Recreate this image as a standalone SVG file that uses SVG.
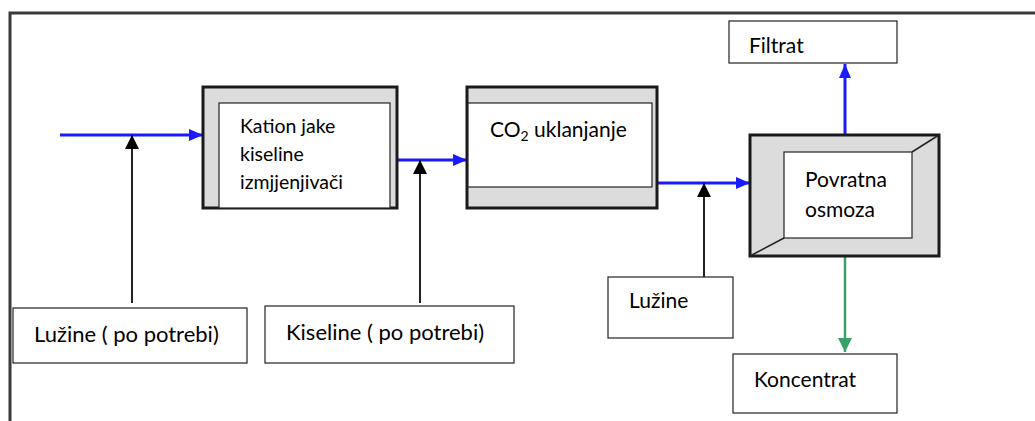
<svg xmlns="http://www.w3.org/2000/svg" width="1035" height="421" viewBox="0 0 1035 421">
<defs>
<style>
.frame{fill:none;stroke:#3a3a3a;stroke-width:3}
.outer{fill:#dcdcdc;stroke:#1a1a1a;stroke-width:3}
.inner{fill:#fff;stroke:#222;stroke-width:1.2}
.box{fill:#fff;stroke:#222;stroke-width:1.2}
.diag{stroke:#222;stroke-width:1.5}
.t{font-family:Lato,"Liberation Sans",sans-serif;font-size:21px;fill:#000}
.s{font-size:19.5px}
.l{font-size:22px}
.blue{stroke:#1a1aff;stroke-width:3;fill:none}
.black{stroke:#222;stroke-width:2;fill:none}
.green{stroke:#3aa06a;stroke-width:2.5;fill:none}
</style>
<marker id="ab" markerWidth="14" markerHeight="12" refX="14" refY="6" orient="auto" markerUnits="userSpaceOnUse"><path d="M0,0 L14,6 L0,12 Z" fill="#1a1aff"/></marker>
<marker id="ak" markerWidth="14" markerHeight="14" refX="14" refY="7" orient="auto" markerUnits="userSpaceOnUse"><path d="M0,0 L14,7 L0,14 Z" fill="#000"/></marker>
<marker id="ag" markerWidth="14" markerHeight="14" refX="14" refY="7" orient="auto" markerUnits="userSpaceOnUse"><path d="M0,0 L14,7 L0,14 Z" fill="#3aa06a"/></marker>
</defs>
<rect width="1035" height="421" fill="#fff"/>
<path class="frame" d="M10,421 L10,13 L1035,13"/>

<g id="connectors">
<line class="blue" x1="60" y1="135" x2="203" y2="135" marker-end="url(#ab)"/>
<line class="black" x1="132" y1="303" x2="132" y2="135" marker-end="url(#ak)"/>
<line class="blue" x1="397" y1="160" x2="467" y2="160" marker-end="url(#ab)"/>
<line class="black" x1="420" y1="303" x2="420" y2="160" marker-end="url(#ak)"/>
<line class="blue" x1="657" y1="183" x2="750" y2="183" marker-end="url(#ab)"/>
<line class="black" x1="704" y1="277" x2="704" y2="183" marker-end="url(#ak)"/>
<line class="blue" x1="845" y1="135" x2="845" y2="64" marker-end="url(#ab)"/>
<line class="green" x1="845" y1="256" x2="845" y2="352" marker-end="url(#ag)"/>
</g>

<g id="kation">
<rect class="outer" x="203" y="87" width="194" height="121"/>
<rect class="inner" x="219" y="103" width="171" height="105"/>
<text class="t s" x="240" y="133">Kation jake</text>
<text class="t s" x="240" y="161">kiseline</text>
<text class="t s" x="240" y="189">izmjjenjivači</text>
</g>

<g id="co2">
<rect class="outer" x="467" y="87" width="190" height="121"/>
<rect class="inner" x="468" y="103" width="184" height="84"/>
<text class="t" x="490" y="137">CO<tspan font-size="14" dy="4">2</tspan><tspan dy="-4"> uklanjanje</tspan></text>
</g>

<g id="osmoza">
<rect class="outer" x="750" y="135" width="189" height="121"/>
<rect class="inner" x="784" y="152" width="128" height="86"/>
<line class="diag" x1="939" y1="135" x2="912" y2="152"/>
<line class="diag" x1="750" y1="256" x2="784" y2="238"/>
<text class="t" x="805" y="187">Povratna</text>
<text class="t" x="805" y="217">osmoza</text>
</g>

<g id="filtrat">
<rect class="box" x="729" y="21" width="168" height="42"/>
<text class="t" x="749" y="53">Filtrat</text>
</g>

<g id="koncentrat">
<rect class="box" x="733" y="354" width="164" height="59"/>
<text class="t" x="754" y="387">Koncentrat</text>
</g>

<g id="luzine2">
<rect class="box" x="608" y="277" width="125" height="61"/>
<text class="t" x="629" y="308">Lužine</text>
</g>

<g id="luzine1">
<rect class="box" x="13" y="308" width="234" height="55"/>
<text class="t l" x="34" y="342">Lužine ( po potrebi)</text>
</g>

<g id="kiseline">
<rect class="box" x="265" y="306" width="249" height="57"/>
<text class="t l" x="286" y="340">Kiseline ( po potrebi)</text>
</g>
</svg>
